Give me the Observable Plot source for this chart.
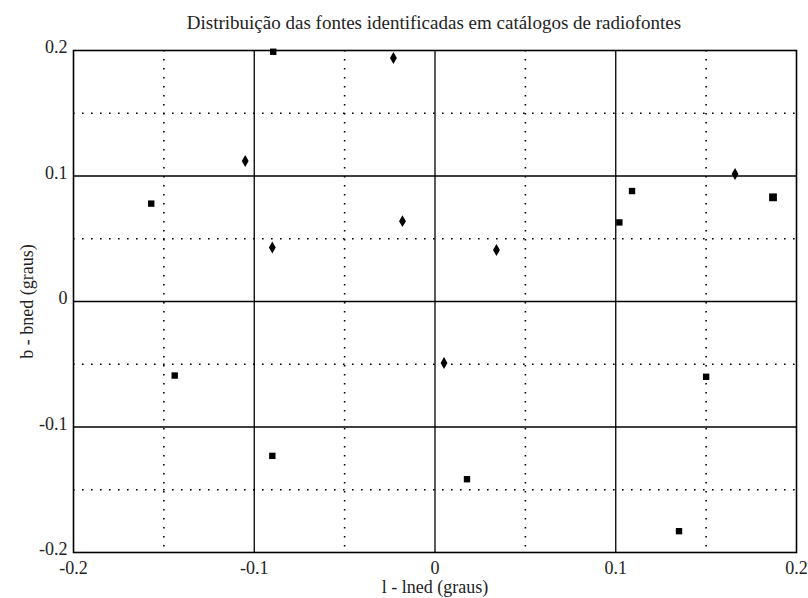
<!DOCTYPE html>
<html>
<head>
<meta charset="utf-8">
<script src="https://cdn.jsdelivr.net/npm/d3@7"></script>
<script src="https://cdn.jsdelivr.net/npm/@observablehq/plot@0.6"></script>
<style>
  html, body { margin: 0; padding: 0; background: #fff; }
  #title { width: 808px; height: 40px; box-sizing: border-box; padding-top: 12px; padding-left: 60px; text-align: center;
           font-family: "Liberation Serif", "DejaVu Serif", serif; font-size: 19px; line-height: 22px; color: #222; white-space: nowrap; }
</style>
</head>
<body>
<div id="title">Distribuição das fontes identificadas em catálogos de radiofontes</div>
<div id="chart"></div>
<script>
// Data
const lOffsets = [-0.157, -0.144, -0.105, -0.0895, -0.090, -0.090, -0.023, -0.018, 0.005, 0.0177, 0.034, 0.102, 0.109, 0.150, 0.135, 0.166, 0.187];
const bOffsets = [0.078, -0.059, 0.112, 0.199, 0.043, -0.123, 0.194, 0.064, -0.049, -0.1416, 0.041, 0.063, 0.088, -0.060, -0.183, 0.1016, 0.083];
const markerKinds = ["square","square","diamond","square","diamond","square","diamond","diamond","diamond","square","diamond","square","square","square","square","diamond","bigsquare"];
const tickValues = [-0.2, -0.1, 0, 0.1, 0.2];
const tickLabels = ["-0.2", "-0.1", "0", "0.1", "0.2"];
const solidGrid = [-0.1, 0, 0.1];
const dottedGrid = [-0.15, -0.05, 0.05, 0.15];

const points = lOffsets.map((l, i) => ({l, b: bOffsets[i], kind: markerKinds[i]}));
const fmt = d => tickLabels[tickValues.indexOf(d)] ?? String(d);

const chart = Plot.plot({
  width: 808,
  height: 558,
  marginLeft: 73,
  marginRight: 12,
  marginTop: 10,
  marginBottom: 46,
  style: {fontFamily: "'Liberation Serif', 'DejaVu Serif', serif", fontSize: "18px", color: "#222", background: "white", overflow: "visible"},
  x: {domain: [-0.2, 0.2]},
  y: {domain: [-0.2, 0.2]},
  marks: [
    Plot.ruleX(dottedGrid, {stroke: "black", strokeWidth: 1.6, strokeDasharray: "1.6,7.4"}),
    Plot.ruleY(dottedGrid, {stroke: "black", strokeWidth: 1.6, strokeDasharray: "1.6,7.4"}),
    Plot.ruleX(solidGrid, {stroke: "black", strokeWidth: 1.3}),
    Plot.ruleY(solidGrid, {stroke: "black", strokeWidth: 1.3}),
    Plot.frame({stroke: "black", strokeWidth: 1.6}),
    Plot.axisX(tickValues, {tickSize: 0, tickPadding: 9, tickFormat: fmt, label: "l - lned (graus)", labelAnchor: "center", labelArrow: false, labelOffset: 40}),
    Plot.axisY(tickValues, {tickSize: 0, tickPadding: 6, dy: -3, tickFormat: fmt, label: "b - bned (graus)", labelAnchor: "center", labelArrow: false, labelOffset: 53}),
    Plot.dot(points.filter(d => d.kind === "square"), {x: "l", y: "b", symbol: "square", r: 3.6, fill: "black", stroke: "none"}),
    Plot.dot(points.filter(d => d.kind === "bigsquare"), {x: "l", y: "b", symbol: "square", r: 4.4, fill: "black", stroke: "none"}),
    Plot.dot(points.filter(d => d.kind === "diamond"), {x: "l", y: "b", symbol: "diamond", r: 3.6, fill: "black", stroke: "none"})
  ]
});
document.getElementById("chart").appendChild(chart);
</script>
</body>
</html>
